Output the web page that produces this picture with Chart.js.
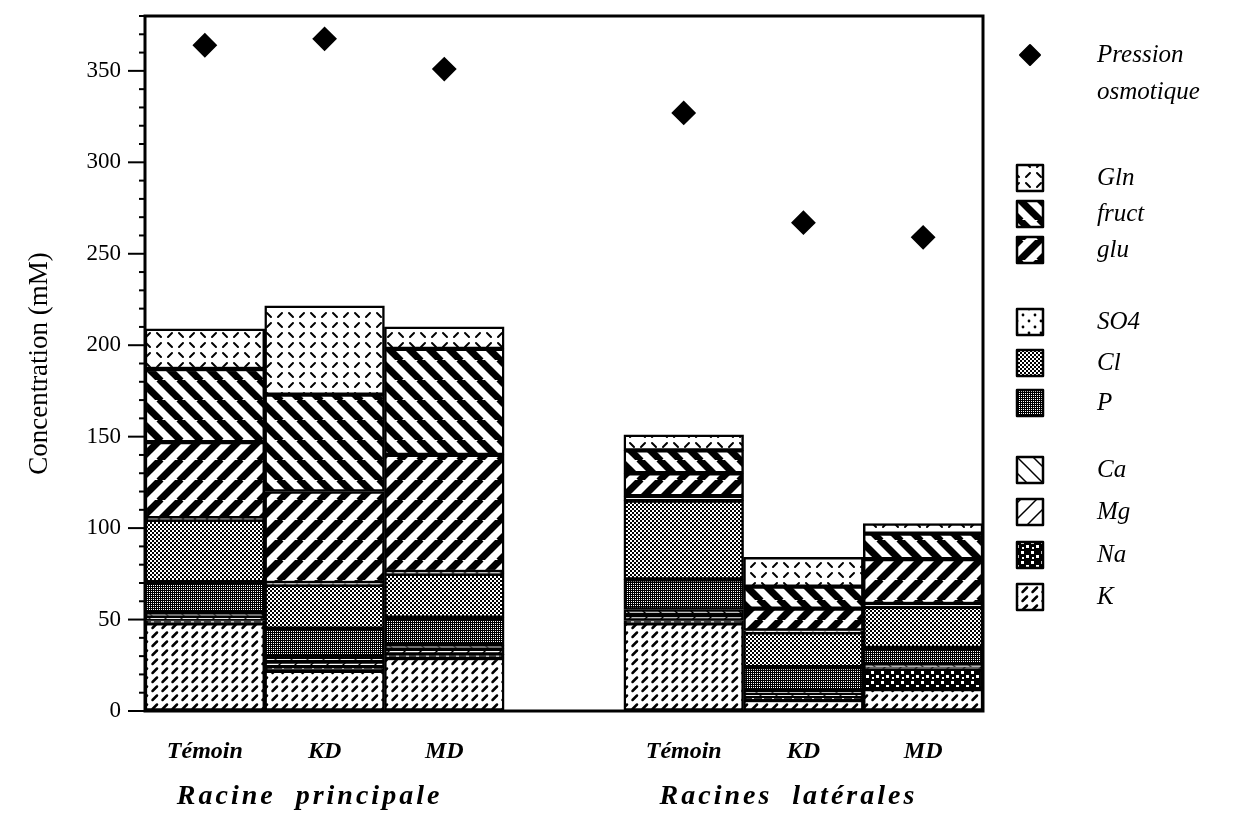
<!DOCTYPE html>
<html lang="fr">
<head>
<meta charset="utf-8">
<title>Concentration (mM)</title>
<script src="https://cdn.jsdelivr.net/npm/chart.js@4"></script>
<style>
  html, body { margin: 0; padding: 0; background: #fff; }
</style>
</head>
<body>
<canvas id="chart" width="1233" height="825"></canvas>
<script>
/* === DONNEES === */
const categories = ["Témoin", "KD", "MD", "", "Témoin", "KD", "MD"];
const groupLabels = ["Racine  principale", "Racines  latérales"];
const groupCenters = [1, 5];
const yTickLabels = [0, 50, 100, 150, 200, 250, 300, 350];

// empilement de bas en haut (mM)
const K     = [48,   22,   29,   null, 48,   6,    12];
const Na    = [1.5,  2,    2,    null, 1.5,  1.5,  11];
const Mg    = [2,    3,    3,    null, 3,    2,    1];
const Ca    = [2,    2.5,  2,    null, 3,    1.5,  1];
const P     = [17,   15.5, 15,   null, 16.5, 13,   9.5];
const Cl    = [34,   24,   24,   null, 43,   19,   22.5];
const SO4   = [1,    1,    1,    null, 2.5,  1,    1.5];
const glu   = [41.5, 50,   64,   null, 12.5, 12,   24.5];
const fruct = [40,   53,   58,   null, 12.5, 12,   14];
const Gln   = [22,   48.5, 12,   null, 8.5,  16,   5.5];
const pression = [364, 367.5, 351, null, 327, 267, 259];

/* === MOTIFS (noir et blanc) === */
function tile(w, h, draw) {
  const c = document.createElement("canvas");
  c.width = w; c.height = h;
  const g = c.getContext("2d");
  g.fillStyle = "#fff"; g.fillRect(0, 0, w, h);
  g.fillStyle = "#000"; g.strokeStyle = "#000";
  draw(g, w, h);
  return g.createPattern(c, "repeat");
}
function diag(g, s, lw, dir) {
  g.lineWidth = lw;
  for (const o of [-s, 0, s]) {
    g.beginPath();
    if (dir > 0) { g.moveTo(o - 1, s + 1); g.lineTo(o + s + 1, -1); }
    else { g.moveTo(o - 1, -1); g.lineTo(o + s + 1, s + 1); }
    g.stroke();
  }
}
function dash(g, x1, y1, x2, y2, lw) {
  g.lineWidth = lw; g.lineCap = "round";
  g.beginPath(); g.moveTo(x1, y1); g.lineTo(x2, y2); g.stroke();
}

const pat = {
  K: tile(10, 9, g => dash(g, 2.5, 7, 7, 2.5, 2.5)),
  Na: tile(10, 10, g => {
    g.fillRect(0, 0, 10, 10);
    g.fillStyle = "#fff";
    g.fillRect(1, 1, 3, 3); g.fillRect(6, 5, 3, 3); g.fillRect(2, 7, 2, 2);
  }),
  Mg: tile(16, 16, g => diag(g, 16, 1.5, 1)),
  Ca: tile(16, 16, g => diag(g, 16, 1.5, -1)),
  P: tile(4, 4, g => {
    g.fillRect(0, 0, 4, 4);
    g.fillStyle = "#fff";
    g.fillRect(1, 1, 1, 1); g.fillRect(3, 3, 1, 1); g.fillRect(1, 3, 1, 1); g.fillRect(3, 1, 1, 1);
  }),
  Cl: tile(4, 4, g => { g.fillRect(0, 0, 2, 2); g.fillRect(2, 2, 2, 2); }),
  SO4: tile(12, 12, g => {
    g.beginPath(); g.arc(3, 3, 1.4, 0, Math.PI * 2); g.fill();
    g.beginPath(); g.arc(9, 9, 1.4, 0, Math.PI * 2); g.fill();
  }),
  glu: tile(20, 20, g => diag(g, 20, 7, 1)),
  fruct: tile(20, 20, g => diag(g, 20, 7, -1)),
  Gln: tile(22, 20, g => {
    dash(g, 3, 7, 7, 3, 2); dash(g, 14, 3, 18, 7, 2);
    dash(g, 3, 13, 7, 17, 2); dash(g, 14, 17, 18, 13, 2);
  })
};

const series = [
  ["K", K], ["Na", Na], ["Mg", Mg], ["Ca", Ca], ["P", P],
  ["Cl", Cl], ["SO4", SO4], ["glu", glu], ["fruct", fruct], ["Gln", Gln]
];

const datasets = series.map(([name, vals]) => ({
  type: "bar",
  label: name,
  data: vals,
  backgroundColor: pat[name],
  borderColor: "#000",
  borderWidth: 2.5,
  borderSkipped: false,
  stack: "ions",
  barPercentage: 1,
  categoryPercentage: 1,
  order: 1
}));

datasets.push({
  type: "line",
  label: "Pression osmotique",
  data: pression,
  showLine: false,
  stack: "osm",
  pointStyle: "rectRot",
  pointRadius: 11,
  backgroundColor: "#000",
  borderColor: "#000",
  borderJoinStyle: "round",
  pointBorderWidth: 2,
  order: 0
});

/* === LEGENDE (ordre du haut vers le bas) === */
const legendItems = [
  { key: "osm", text: ["Pression", "osmotique"], y: 55 },
  { key: "Gln", text: ["Gln"], y: 178 },
  { key: "fruct", text: ["fruct"], y: 214 },
  { key: "glu", text: ["glu"], y: 250 },
  { key: "SO4", text: ["SO4"], y: 322 },
  { key: "Cl", text: ["Cl"], y: 363 },
  { key: "P", text: ["P"], y: 403 },
  { key: "Ca", text: ["Ca"], y: 470 },
  { key: "Mg", text: ["Mg"], y: 512 },
  { key: "Na", text: ["Na"], y: 555 },
  { key: "K", text: ["K"], y: 597 }
];

const decor = {
  id: "decor",
  afterDraw(chart) {
    const { ctx, chartArea: a, scales: { x, y } } = chart;
    ctx.save();
    ctx.strokeStyle = "#000";
    ctx.fillStyle = "#000";

    // graduations de l'axe y
    ctx.lineWidth = 2;
    y.ticks.forEach(t => {
      const py = y.getPixelForValue(t.value);
      const major = yTickLabels.includes(t.value);
      ctx.beginPath();
      ctx.moveTo(a.left - (major ? 17 : 6), py);
      ctx.lineTo(a.left, py);
      ctx.stroke();
    });

    // cadre
    ctx.lineWidth = 3;
    ctx.strokeRect(a.left, a.top, a.right - a.left, a.bottom - a.top);

    // noms des groupes
    ctx.font = "bold italic 28px 'Liberation Serif'";
    ctx.letterSpacing = "3px";
    ctx.textAlign = "center";
    ctx.textBaseline = "middle";
    groupCenters.forEach((c, i) => {
      ctx.fillText(groupLabels[i], x.getPixelForValue(c) - 15, 797);
    });

    // legende
    ctx.letterSpacing = "0px";
    ctx.font = "italic 25px 'Liberation Serif'";
    ctx.textAlign = "left";
    const sx = a.right + 47;
    legendItems.forEach(it => {
      if (it.key === "osm") {
        ctx.lineJoin = "round";
        ctx.lineWidth = 2;
        ctx.beginPath();
        ctx.moveTo(sx, it.y - 10); ctx.lineTo(sx + 10, it.y);
        ctx.lineTo(sx, it.y + 10); ctx.lineTo(sx - 10, it.y);
        ctx.closePath(); ctx.fill(); ctx.stroke();
      } else {
        ctx.fillStyle = pat[it.key];
        ctx.fillRect(sx - 13, it.y - 13, 26, 26);
        ctx.fillStyle = "#000";
        ctx.lineWidth = 2.5;
        ctx.strokeRect(sx - 13, it.y - 13, 26, 26);
      }
      it.text.forEach((s, j) => ctx.fillText(s, sx + 67, it.y + j * 37));
    });
    ctx.restore();
  }
};

new Chart(document.getElementById("chart"), {
  data: { labels: categories, datasets },
  options: {
    responsive: false,
    animation: false,
    layout: { autoPadding: false, padding: { top: 16, right: 250, left: 0, bottom: 0 } },
    plugins: { legend: { display: false }, tooltip: { enabled: false } },
    scales: {
      x: {
        stacked: true,
        grid: { display: false },
        border: { display: false },
        ticks: {
          color: "#000",
          padding: 18,
          font: { family: "'Liberation Serif'", size: 24, style: "italic", weight: "bold" }
        },
        afterFit: s => { s.height = 114; s.paddingLeft = 0; s.paddingRight = 0; }
      },
      y: {
        stacked: true,
        min: 0,
        max: 380,
        grid: { display: true, drawOnChartArea: false, drawTicks: false, color: "transparent" },
        border: { display: false },
        ticks: {
          stepSize: 10,
          autoSkip: false,
          padding: 24,
          color: "#000",
          font: { family: "'Liberation Serif'", size: 23 },
          callback: v => (yTickLabels.includes(v) ? v : "")
        },
        title: {
          display: true,
          text: "Concentration (mM)",
          color: "#000",
          padding: { top: 24 },
          font: { family: "'Liberation Serif'", size: 27 }
        },
        afterFit: s => { s.width = 145; s.paddingTop = 0; s.paddingBottom = 0; }
      }
    }
  },
  plugins: [decor]
});
</script>
</body>
</html>
